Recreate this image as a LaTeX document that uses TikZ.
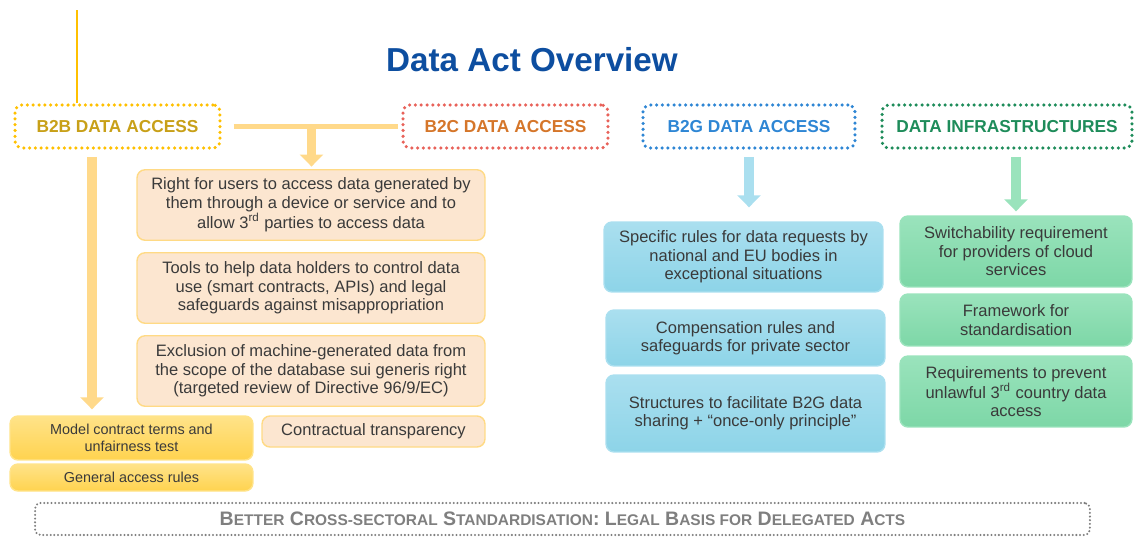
\documentclass[tikz,border=0pt]{standalone}
\usepackage{fontspec}
\setmainfont{Liberation Sans}
\usetikzlibrary{positioning,arrows.meta,calc,shapes}

\definecolor{titleblue}{HTML}{0D4EA0}
\definecolor{txtgray}{HTML}{3A3A3A}
\definecolor{b2bgold}{HTML}{FFC000}
\definecolor{b2btext}{HTML}{C8A018}
\definecolor{b2cred}{HTML}{E8625A}
\definecolor{b2ctext}{HTML}{D5762A}
\definecolor{b2gblue}{HTML}{2E86D4}
\definecolor{infragreen}{HTML}{1E8C5A}
\definecolor{userfill}{HTML}{FCE6D0}
\definecolor{userline}{HTML}{FFDA85}
\definecolor{goldarrow}{HTML}{FFD98A}
\definecolor{goldtop}{HTML}{FFE389}
\definecolor{goldbot}{HTML}{FFD34F}
\definecolor{bluetop}{HTML}{AADFEF}
\definecolor{bluebot}{HTML}{8DD4E8}
\definecolor{greentop}{HTML}{9AE3BC}
\definecolor{greenbot}{HTML}{7DD7A7}
\definecolor{stdgray}{HTML}{7F7F7F}

\newcommand\smc[1]{{\fontsize{8.8}{10}\selectfont #1}}

\begin{document}
\begin{tikzpicture}[x=0.02cm,y=-0.02cm,font=\fontsize{9.4}{10.5}\selectfont,text=txtgray]
	\tikzstyle{head}=[rectangle,rounded corners=4pt,line width=2pt,dash pattern=on 0pt off 3.3pt,line cap=round,minimum height=8.6mm,inner sep=0pt,font=\fontsize{9.85}{11}\selectfont\bfseries]
	\tikzstyle{b2bhead}=[head,draw=b2bgold,text=b2btext,minimum width=41mm]
	\tikzstyle{b2chead}=[head,draw=b2cred,text=b2ctext,minimum width=41mm]
	\tikzstyle{b2ghead}=[head,draw=b2gblue,text=b2gblue,minimum width=42.4mm]
	\tikzstyle{infrahead}=[head,draw=infragreen,text=infragreen,minimum width=50mm]

	\tikzstyle{box}=[rectangle,rounded corners=1.6mm,line width=0.8pt,align=center,inner sep=0pt]
	\tikzstyle{userbox}=[box,fill=userfill,draw=userline,minimum width=69.6mm,minimum height=14.1mm]
	\tikzstyle{goldbox}=[box,top color=goldtop,bottom color=goldbot,draw=goldtop,minimum width=48.6mm,font=\fontsize{8.2}{9.6}\selectfont]
	\tikzstyle{bluebox}=[box,top color=bluetop,bottom color=bluebot,draw=bluetop,minimum width=55.8mm]
	\tikzstyle{greenbox}=[box,top color=greentop,bottom color=greenbot,draw=greentop,minimum width=46.4mm]

	\tikzstyle{fat}=[line width=2mm,-{Triangle[width=4.6mm,length=2.4mm]}]

	\useasboundingbox (0,0) rectangle (1137,541);

	%title
	\node[font=\fontsize{18.9}{22}\selectfont\bfseries,text=titleblue] (title) at (532,60) {Data Act Overview};

	%headers
	\node[b2bhead] (b2b) at (117.5,126.5) {B2B DATA ACCESS};
	\node[b2chead] (b2c) at (505.5,126.5) {B2C DATA ACCESS};
	\node[b2ghead] (b2g) at (749,126.5) {B2G DATA ACCESS};
	\node[infrahead] (infra) at (1007,126.5) {DATA INFRASTRUCTURES};
	\coordinate (top) at (77,10);
	\draw[b2bgold,line width=1.2pt] (top) -- (top |- b2b.north);

	%B2B and B2C
	\node[userbox] (right) at (311,205) {Right for users to access data generated by\\them through a device or service and to\\allow 3\textsuperscript{rd} parties to access data};
	\node[userbox] (tools) at (311,288) {Tools to help data holders to control data\\use (smart contracts, APIs) and legal\\safeguards against misappropriation};
	\node[userbox] (exclusion) at (311,371) {Exclusion of machine-generated data from\\the scope of the database sui generis right\\(targeted review of Directive 96/9/EC)};
	\node[box,fill=userfill,draw=userline,minimum width=44.6mm,minimum height=6.2mm] (transp) at (373.5,431.5) {Contractual transparency};
	\node[goldbox,minimum height=8.8mm] (model) at (131.5,438) {Model contract terms and\\unfairness test};
	\node[goldbox,minimum height=5.4mm] (general) at (131.5,477.5) {General access rules};

	\coordinate (mid) at ($(b2b.east)!0.5!(b2c.west)$);
	\draw[goldarrow,line width=1mm,shorten <=2.4mm,shorten >=0.6mm] (b2b.east) -- (b2c.west);
	\draw[fat,goldarrow,line width=1.9mm,shorten >=0.5mm] (mid) -- (mid |- right.north);
	\coordinate (b2bx) at (92,0);
	\draw[fat,goldarrow,shorten <=1.4mm,shorten >=1.2mm] (b2b.south -| b2bx) -- (model.north -| b2bx);

	%B2G
	\node[bluebox,minimum height=14mm] (specific) at (743.5,257) {Specific rules for data requests by\\national and EU bodies in\\exceptional situations};
	\node[bluebox,minimum height=11.2mm] (comp) at (745.5,338) {Compensation rules and\\safeguards for private sector};
	\node[bluebox,minimum height=15.4mm] (struct) at (745.5,413.5) {Structures to facilitate B2G data\\sharing + “once-only principle”};
	\draw[fat,bluetop,shorten <=1.4mm,shorten >=2.8mm] (b2g.south) -- (b2g.south |- specific.north);

	%data infrastructures
	\node[greenbox,minimum height=14.2mm] (switch) at (1016,251.5) {Switchability requirement\\for providers of cloud\\services};
	\node[greenbox,minimum height=10.4mm] (frame) at (1016,320) {Framework for\\standardisation};
	\node[greenbox,minimum height=14.2mm] (req) at (1016,391.5) {Requirements to prevent\\unlawful 3\textsuperscript{rd} country data\\access};
	\draw[fat,greentop,shorten <=1.4mm,shorten >=0.8mm] (switch.north |- infra.south) -- (switch.north);

	%standardisation
	\node[rectangle,rounded corners=3pt,draw=stdgray,line width=1.3pt,dash pattern=on 0pt off 2.1pt,line cap=round,minimum width=211mm,minimum height=6.4mm,inner sep=0pt,text=stdgray,font=\fontsize{11.1}{12}\selectfont\bfseries] (std) at (562.5,519) {B\smc{ETTER} C\smc{ROSS-SECTORAL} S\smc{TANDARDISATION}: L\smc{EGAL} B\smc{ASIS FOR} D\smc{ELEGATED} A\smc{CTS}};

\end{tikzpicture}
\end{document}
